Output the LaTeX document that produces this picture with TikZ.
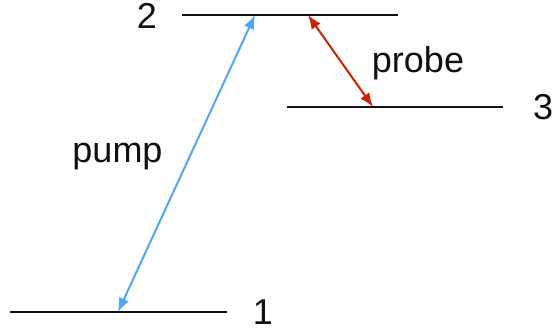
\documentclass[tikz,border=0pt]{standalone}
\usepackage{fontspec}
\setmainfont{Liberation Sans}
\usepackage{tikz}
\usetikzlibrary{arrows.meta}
\definecolor{Ink}{HTML}{111111}
\definecolor{PumpBlue}{HTML}{4DA6FF}
\definecolor{ProbeRed}{HTML}{CC2200}
\tikzset{
  level/.style={line width=2.2pt,draw=Ink},
  trans/.style={{Latex[length=14pt,width=11pt]}-{Latex[length=14pt,width=11pt]},line width=2pt},
  lbl/.style={font=\fontsize{36}{40}\selectfont,text=Ink,inner sep=0pt}
}

\begin{document}
\begin{tikzpicture}[x=1pt,y=-1pt]
  \useasboundingbox (0,0) rectangle (553,332);
  % energy levels
  \coordinate (l1a) at (10,312);  \coordinate (l1b) at (227,312);
  \coordinate (l2a) at (182,15);  \coordinate (l2b) at (398,15);
  \coordinate (l3a) at (287,107); \coordinate (l3b) at (503,107);
  \draw[level] (l1a)--(l1b);
  \draw[level] (l2a)--(l2b);
  \draw[level] (l3a)--(l3b);
  \node[lbl] (n1) at (263,312) {1};
  \node[lbl] (n2) at (147,15.5) {2};
  \node[lbl] (n3) at (543,107.5) {3};

  % transitions
  \coordinate (pumpLo) at (118,312);  \coordinate (pumpHi) at (255,15);
  \coordinate (probeHi) at (308,15);  \coordinate (probeLo) at (373,107);
  \draw[trans,draw=PumpBlue] (pumpLo)--(pumpHi);
  \draw[trans,draw=ProbeRed] (probeHi)--(probeLo);
  \node[lbl,anchor=base] (pump) at (117.5,162) {pump};
  \node[lbl,anchor=base] (probe) at (418,72) {probe};
\end{tikzpicture}
\end{document}
